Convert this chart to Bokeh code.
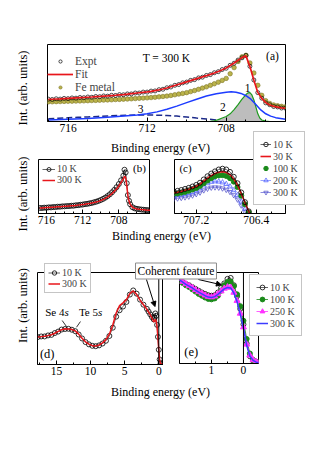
from bokeh.plotting import figure
from bokeh.models import Range1d, FixedTicker, Label, Legend, LegendItem, Span, Arrow, NormalHead
from bokeh.layouts import row, column
from bokeh.embed import file_html
from bokeh.resources import INLINE

FONT = "Liberation Serif"
RED = "#e8161b"
GREEN = "#1a8a1a"
MAGENTA = "#ff33ff"
BLUE = "#3c3cff"
NAN = float("nan")

# ---------------- panel (a) data (fraction of frame height) ----------------
A_X = [717.0, 716.8, 716.6, 716.4, 716.2, 716.0, 715.8, 715.6, 715.4, 715.2,
       715.0, 714.8, 714.6, 714.4, 714.2, 714.0, 713.8, 713.6, 713.4, 713.2,
       713.0, 712.8, 712.6, 712.4, 712.2, 712.0, 711.8, 711.6, 711.4, 711.2,
       711.0, 710.8, 710.6, 710.4, 710.2, 710.0, 709.8, 709.6, 709.4, 709.2,
       709.0, 708.8, 708.6, 708.4, 708.2, 708.0, 707.8, 707.6, 707.4, 707.2,
       707.0, 706.8, 706.6, 706.4, 706.2, 706.0, 705.8, 705.6, 705.4, 705.2,
       705.0]
A_EXPT = [.290, .286, .295, .291, .300, .297, .306, .303, .312, .309,
          .318, .315, .325, .322, .332, .329, .340, .338, .349, .347,
          .358, .358, .370, .370, .382, .382, .395, .397, .413, .419,
          .438, .448, .470, .480, .502, .512, .534, .544, .566, .576,
          .598, .609, .633, .647, .675, .692, .730, .757, .798, .827,
          .858, .717, .539, .375, .303, .242, .218, .195, .189, .175,
          .174]
A_FIT = [.287, .289, .292, .294, .297, .300, .303, .306, .309, .312,
         .315, .318, .322, .325, .329, .332, .337, .341, .346, .350,
         .355, .361, .367, .373, .379, .385, .392, .400, .410, .422,
         .435, .451, .467, .483, .499, .515, .531, .547, .563, .579,
         .595, .612, .630, .650, .672, .695, .727, .760, .795, .830,
         .852, .715, .536, .378, .300, .245, .215, .198, .186, .178,
         .172]
A_FE = [.255, .256, .258, .259, .261, .262, .264, .265, .267, .268,
        .270, .272, .274, .276, .278, .280, .282, .285, .287, .290,
        .292, .295, .298, .301, .304, .307, .311, .315, .320, .325,
        .330, .338, .347, .356, .365, .375, .388, .402, .418, .434,
        .450, .470, .490, .511, .534, .560, .620, .700, .780, .840,
        .860, .760, .630, .470, .340, .270, .235, .215, .205, .197,
        .190]
C1_X = [708.8, 708.6, 708.4, 708.2, 708.0, 707.8, 707.6, 707.4, 707.2, 707.0,
        706.9, 706.8, 706.7, 706.6, 706.5, 706.4, 706.3, 706.2, 706.0, 705.8]
C1_Y = [.003, .010, .025, .045, .065, .100, .155, .220, .290, .350,
        .372, .375, .345, .280, .190, .100, .045, .020, .005, .000]
C2_X = [717.0, 716.0, 715.0, 714.0, 713.0, 712.5, 712.0, 711.5, 711.0, 710.5,
        710.0, 709.5, 709.0, 708.5, 708.0, 707.75, 707.5, 707.25, 707.0, 706.75,
        706.5, 706.25, 706.0, 705.75, 705.5, 705.25, 705.0]
C2_Y = [.020, .030, .040, .055, .075, .085, .100, .125, .160, .200,
        .245, .290, .330, .360, .380, .385, .380, .365, .335, .290,
        .220, .150, .100, .070, .050, .040, .030]
C3_X = [717.0, 716.5, 716.0, 715.5, 715.0, 714.5, 714.0, 713.5, 713.0, 712.5,
        712.0, 711.5, 711.0, 710.5, 710.0, 709.5, 709.0, 708.5, 708.0, 707.5, 707.0]
C3_Y = [.035, .042, .048, .054, .060, .066, .072, .077, .082, .085,
        .085, .082, .078, .070, .058, .045, .033, .020, .010, .004, .000]

# ---------------- panel (b) ----------------
B_X = [716.75, 716.5, 716.25, 716.0, 715.75, 715.5, 715.25, 715.0, 714.75, 714.5,
       714.25, 714.0, 713.75, 713.5, 713.25, 713.0, 712.75, 712.5, 712.25, 712.0,
       711.75, 711.5, 711.25, 711.0, 710.75, 710.5, 710.25, 710.0, 709.75, 709.5,
       709.25, 709.0, 708.75, 708.5, 708.25, 708.0, 707.75, 707.5, 707.375, 707.25,
       707.125, 707.0, 706.875, 706.75, 706.5, 706.25, 706.0, 705.75, 705.5, 705.25,
       705.0, 704.75, 704.5]
B_300 = [.100, .103, .106, .109, .112, .115, .118, .121, .124, .127,
         .130, .133, .136, .139, .142, .145, .150, .155, .160, .166,
         .172, .179, .186, .194, .203, .213, .225, .240, .258, .280,
         .305, .335, .370, .410, .455, .510, .575, .640, .690, .670,
         .520, .330, .230, .170, .115, .095, .085, .078, .072, .068,
         .064, .061, .059]
B_10 = [.103, .101, .108, .107, .114, .113, .120, .119, .126, .126,
        .132, .132, .138, .138, .144, .144, .152, .154, .162, .165,
        .174, .178, .188, .195, .207, .219, .233, .250, .270, .294,
        .322, .355, .393, .437, .487, .545, .615, .700, .810, .760,
        .560, .340, .235, .172, .117, .096, .086, .079, .073, .069,
        .065, .062, .060]

# ---------------- panel (c) ----------------
C_X = [707.50, 707.45, 707.40, 707.35, 707.30, 707.25, 707.20, 707.15, 707.10, 707.05,
       707.00, 706.95, 706.90, 706.85, 706.80, 706.75, 706.70, 706.65, 706.60, 706.55,
       706.50, 706.45]
C_10 = [.405, .42, .435, .455, .475, .50, .53, .57, .63, .69, .74, .78, .815, .83, .815, .77,
        .68, .56, .39, .21, .04, -.12]
C_30 = [.38, .395, .41, .43, .45, .475, .505, .545, .60, .655, .70, .74, .765, .775, .76, .72,
        .64, .53, .37, .20, .04, -.12]
C_100 = [.36, .37, .385, .40, .42, .445, .47, .51, .56, .61, .655, .69, .705, .71, .695, .655,
         .59, .49, .33, .17, .02, -.13]
C_200 = [.33, .34, .35, .365, .38, .40, .43, .47, .52, .56, .585, .595, .59, .575, .545, .50,
         .43, .34, .22, .09, -.04, -.15]
C_300 = [.27, .28, .29, .30, .315, .335, .36, .39, .43, .46, .48, .485, .48, .465, .44, .40,
         .34, .26, .15, .03, -.09, -.20]

# ---------------- panel (d) ----------------
D_X = [17.75, 17.25, 16.75, 16.25, 15.75, 15.25, 14.75, 14.25, 13.75, 13.25,
       12.75, 12.25, 11.75, 11.25, 10.75, 10.25, 9.75, 9.25, 8.75, 8.25,
       7.75, 7.25, 6.75, 6.25, 5.75, 5.25, 4.75, 4.25, 3.75, 3.25,
       2.75, 2.25, 1.75, 1.5, 1.25, 1.0, 0.75, 0.625, 0.5, 0.375,
       0.25, 0.125, 0.0, -0.125, -0.25, -0.5, -0.75]
D_300 = [.300, .303, .307, .314, .324, .340, .360, .378, .388, .386,
         .380, .365, .330, .285, .247, .222, .205, .200, .212, .235,
         .270, .330, .430, .560, .640, .670, .705, .770, .800, .760,
         .700, .650, .600, .570, .540, .505, .465, .470, .490, .470,
         .400, .290, .150, .050, .010, .000, .000]
D_10 = [.298, .305, .305, .316, .322, .342, .358, .380, .386, .388,
        .378, .362, .326, .283, .244, .219, .203, .199, .208, .228,
        .258, .310, .400, .520, .590, .630, .680, .760, .805, .770,
        .705, .650, .605, .575, .545, .515, .490, .510, .555, .530,
        .430, .300, .160, .055, .012, .000, .000]

# ---------------- panel (e) ----------------
E_X = [2.0, 1.9, 1.8, 1.7, 1.6, 1.5, 1.4, 1.3, 1.2, 1.1, 1.0, 0.9, 0.8, 0.7, 0.6,
       0.5, 0.4, 0.3, 0.2, 0.1, 0.0, -0.1, -0.2, -0.3, -0.4, -0.5]
E_10 = [.92, .895, .875, .86, .84, .82, .80, .78, .765, .75, .745, .75, .78, .83, .88,
        .93, .94, .86, .74, .60, .43, .22, .08, .03, .015, .01]
E_100 = [.91, .885, .86, .84, .815, .79, .765, .745, .725, .71, .705, .715, .745, .80, .86,
         .895, .90, .85, .76, .63, .47, .27, .11, .04, .018, .01]
E_250 = [.93, .90, .875, .855, .835, .81, .79, .77, .75, .735, .73, .74, .765, .795, .825,
         .84, .835, .78, .69, .55, .40, .21, .09, .04, .02, .015]
E_300 = [.92, .895, .87, .85, .83, .805, .785, .765, .745, .73, .725, .735, .76, .79, .82,
         .835, .83, .775, .68, .54, .39, .20, .08, .035, .015, .01]

YLAB = "Int. (arb. units)"
XLAB = "Binding energy (eV)"


def base(xr, fw, fh, bl, bt, br, bb, major, minor):
    p = figure(x_range=Range1d(xr[0], xr[1]), y_range=Range1d(0, 1),
               frame_width=fw, frame_height=fh, title=None,
               min_border_left=bl, min_border_top=bt, min_border_right=br, min_border_bottom=bb,
               toolbar_location=None, output_backend="svg")
    p.yaxis.visible = False
    p.xgrid.visible = False
    p.ygrid.visible = False
    p.outline_line_color = "black"
    p.outline_line_width = 1
    p.border_fill_color = None
    p.background_fill_color = None
    ax = p.xaxis[0]
    ax.ticker = FixedTicker(ticks=major, minor_ticks=minor)
    ax.major_tick_in = 4
    ax.major_tick_out = 0
    ax.minor_tick_in = 2
    ax.minor_tick_out = 0
    ax.major_label_standoff = 2
    ax.major_label_text_font = FONT
    ax.major_label_text_font_size = "11.5px"
    ax.major_label_text_color = "black"
    ax.axis_line_color = "black"
    ax.major_tick_line_color = "black"
    ax.minor_tick_line_color = "black"
    return p


def txt(p, x, y, s, size="11.5px", align="center", angle=0, style="normal",
        units="screen", **kw):
    p.add_layout(Label(x=x, y=y, x_units=units, y_units=units, text=s, text_font=FONT,
                       text_font_size=size, text_align=align, text_baseline="middle",
                       angle=angle, angle_units="deg", text_font_style=style,
                       text_color="black", **kw))


def legend(p, items, loc, pad, h, gh, gw, size, border=True):
    lg = Legend(items=items, location=loc, padding=pad, spacing=0, margin=0,
                glyph_height=gh, glyph_width=gw, label_height=h, label_width=10,
                label_standoff=2, label_text_font=FONT, label_text_font_size=size,
                border_line_color="#8c8c8c" if border else None,
                border_line_width=1,
                background_fill_color="white",
                background_fill_alpha=1.0 if border else 0.0)
    p.add_layout(lg)


# ---------------- figure (a) ----------------
fa = base((717.04, 705.0), 238, 77, 47, 44, 20, 19, [716, 712, 708],
          [717, 715, 714, 713, 711, 710, 709, 707, 706, 705])
fa.line(C3_X, C3_Y, line_color="#1c2a8a", line_width=1.5, line_dash="6 3")
fa.varea(x=C1_X, y1=[0] * len(C1_X), y2=C1_Y, fill_color="#bdbdbd")
fa.line(C1_X, C1_Y, line_color="#1f9a1f", line_width=1.2)
fa.line(C2_X, C2_Y, line_color="#1d3cff", line_width=1.5)
r_fe = fa.scatter(A_X, A_FE, marker="circle", size=4.5, fill_color="#bab34a",
                  line_color="#7d7628", line_width=0.6)
r_ex = fa.scatter(A_X, A_EXPT, marker="circle", size=4, fill_color=None,
                  line_color="black", line_width=0.7)
r_fit = fa.line(A_X, A_FIT, line_color=RED, line_width=1.7)
legend(fa, [LegendItem(label="Expt", renderers=[r_ex]),
            LegendItem(label="Fit", renderers=[r_fit]),
            LegendItem(label="Fe metal", renderers=[r_fe])],
       (0, 28), 5, 13, 8, 26, "11.5px", border=False)
txt(fa, 225, 66, "(a)")
txt(fa, 119, 64, "T = 300 K")
txt(fa, 200, 33.7, "1")
txt(fa, 175.3, 14.7, "2")
txt(fa, 93, 12.5, "3")

# ---------------- figure (b) ----------------
fb = base((716.88, 704.5), 112, 54, 38, 19, 0, 32, [716, 712, 708],
          [715, 714, 713, 711, 710, 709, 707, 706, 705])
rb10l = fb.line(B_X, B_10, line_color="black", line_width=0.6)
rb10 = fb.scatter(B_X, B_10, marker="circle", size=5, fill_color=None,
                  line_color="black", line_width=0.8)
rb300 = fb.line(B_X, B_300, line_color=RED, line_width=1.5)
legend(fb, [LegendItem(label="10 K", renderers=[rb10l, rb10]),
            LegendItem(label="300 K", renderers=[rb300])],
       (4, 28), 2, 10, 10, 13, "10px", border=False)
txt(fb, 101, 45.5, "(b)", size="11px")

# ---------------- figure (c) ----------------
fc = base((707.49, 706.01), 111, 54, 24, 19, 20, 32, [707.2, 706.4],
          [707.4, 707.0, 706.8, 706.6, 706.2])
fc.line(C_X, C_300, line_color="#8c8ce0", line_width=1)
fc.scatter(C_X, C_300, marker="inverted_triangle", size=5, fill_color=None,
           line_color="#5a5acd", line_width=0.8)
fc.line(C_X, C_200, line_color="#97a2ff", line_width=1)
fc.scatter(C_X, C_200, marker="triangle", size=5, fill_color=None,
           line_color="#5566ff", line_width=0.8)
fc.scatter(C_X, C_100, marker="circle", size=5, fill_color=GREEN, line_color=GREEN)
fc.line(C_X, C_30, line_color=RED, line_width=1.6)
fc.line(C_X, C_10, line_color="black", line_width=0.6)
fc.scatter(C_X, C_10, marker="circle", size=5, fill_color=None,
           line_color="black", line_width=0.8)
txt(fc, 11, 45.7, "(c)", size="11px")

# ---------------- figure (d) ----------------
fd = base((17.79, -0.69), 126, 92, 37, 26, 0, 37, [15, 10, 5, 0], [17.5, 12.5, 7.5, 2.5])
fd.add_layout(Span(location=0, dimension="height", line_color="black", line_width=1))
fd.line(D_X, D_10, line_color="black", line_width=0.6)
fd.scatter(D_X, D_10, marker="circle", size=5, fill_color=None,
           line_color="black", line_width=0.8)
fd.line(D_X, D_300, line_color=RED, line_width=1.5)
fd.add_layout(Arrow(end=NormalHead(size=5, fill_color="black", line_color="black"),
                    x_start=1.81, y_start=0.924, x_end=0.56, y_end=0.63,
                    line_color="black", line_width=1))
fd.segment(x0=[14.17, 11.49], y0=[0.478, 0.467], x1=[13.54, 12.07], y1=[0.413, 0.405],
           line_color="black", line_width=0.8)
txt(fd, 9.7, 10.7, "(d)", size="12.5px")
txt(fd, 27, 53, "Se 4", size="11px", align="right")
txt(fd, 27, 53, "s", size="11px", align="left", style="italic")
txt(fd, 60.5, 53, "Te 5", size="11px", align="right")
txt(fd, 60.5, 53, "s", size="11px", align="left", style="italic")

# ---------------- figure (e) ----------------
fe = base((2.0, -0.47), 79, 91, 16, 27, 47, 37, [1, 0], [1.5, 0.5])
fe.add_layout(Span(location=0, dimension="height", line_color="black", line_width=1))
fe.line(E_X, E_10, line_color="black", line_width=0.6)
fe.scatter(E_X, E_10, marker="circle", size=5, fill_color=None,
           line_color="black", line_width=0.8)
fe.line(E_X, E_100, line_color=GREEN, line_width=0.8)
fe.scatter(E_X, E_100, marker="circle", size=5, fill_color=GREEN, line_color=GREEN)
fe.line(E_X, E_250, line_color=MAGENTA, line_width=0.8)
fe.scatter(E_X, E_250, marker="triangle", size=6, fill_color=MAGENTA, line_color=MAGENTA)
fe.line(E_X, E_300, line_color=BLUE, line_width=1.5)
fe.add_layout(Arrow(end=NormalHead(size=5, fill_color="black", line_color="black"),
                    x_start=1.41, y_start=0.923, x_end=0.69, y_end=0.865,
                    line_color="black", line_width=1))
txt(fe, 11.7, 11.3, "(e)", size="12.5px")

# ---------------- transparent overlay (page pixel coordinates) for shared texts ----------------
ov = figure(x_range=Range1d(0, 305), y_range=Range1d(400, 0), frame_width=305, frame_height=400,
            title=None, min_border=0, min_border_left=0, min_border_right=0,
            min_border_top=0, min_border_bottom=0,
            toolbar_location=None, output_backend="svg")
ov.axis.visible = False
ov.grid.visible = False
ov.outline_line_color = None
ov.border_fill_color = None
ov.background_fill_color = None

txt(ov, 22, 87.5, YLAB, size="12.5px", angle=90, units="data")
txt(ov, 22, 193.5, YLAB, size="12.5px", angle=90, units="data")
txt(ov, 22, 305, YLAB, size="12.5px", angle=90, units="data")
txt(ov, 160, 147, XLAB, size="12px", units="data")
txt(ov, 161, 235, XLAB, size="12px", units="data")
txt(ov, 160, 391, XLAB, size="12px", units="data")
txt(ov, 175.5, 270.5, "Coherent feature", size="11.5px", units="data",
    border_line_color="#8c8c8c", background_fill_color="white", padding=2)

# legend keys (proxies without visible points, styled like the panel series)
P = [NAN]
k10l = ov.line(P, P, line_color="black", line_width=0.6)
k10 = ov.scatter(P, P, marker="circle", size=5, fill_color=None, line_color="black", line_width=0.8)
k30 = ov.line(P, P, line_color=RED, line_width=1.6)
k100c = ov.scatter(P, P, marker="circle", size=5, fill_color=GREEN, line_color=GREEN)
k200l = ov.line(P, P, line_color="#97a2ff", line_width=1)
k200 = ov.scatter(P, P, marker="triangle", size=5, fill_color=None, line_color="#5566ff", line_width=0.8)
k300l = ov.line(P, P, line_color="#8c8ce0", line_width=1)
k300 = ov.scatter(P, P, marker="inverted_triangle", size=5, fill_color=None,
                  line_color="#5a5acd", line_width=0.8)
kd300 = ov.line(P, P, line_color=RED, line_width=1.5)
ke100l = ov.line(P, P, line_color=GREEN, line_width=0.8)
ke100 = ov.scatter(P, P, marker="circle", size=5, fill_color=GREEN, line_color=GREEN)
ke250l = ov.line(P, P, line_color=MAGENTA, line_width=0.8)
ke250 = ov.scatter(P, P, marker="triangle", size=6, fill_color=MAGENTA, line_color=MAGENTA)
ke300 = ov.line(P, P, line_color=BLUE, line_width=1.5)

legend(ov, [LegendItem(label="10 K", renderers=[k10l, k10]),
            LegendItem(label="30 K", renderers=[k30]),
            LegendItem(label="100 K", renderers=[k100c]),
            LegendItem(label="200 K", renderers=[k200l, k200]),
            LegendItem(label="300 K", renderers=[k300l, k300])],
       (253, 195), 6, 12, 12, 11, "10px", border=True)
legend(ov, [LegendItem(label="10 K", renderers=[k10l, k10]),
            LegendItem(label="300 K", renderers=[kd300])],
       (44, 107), 3, 11, 11, 12, "10px", border=True)
legend(ov, [LegendItem(label="10 K", renderers=[k10l, k10]),
            LegendItem(label="100 K", renderers=[ke100l, ke100]),
            LegendItem(label="250 K", renderers=[ke250l, ke250]),
            LegendItem(label="300 K", renderers=[ke300])],
       (249, 64), 6, 12, 12, 12, "10px", border=True)

layout = column(row(fa), row(fb, fc), row(fd, fe), row(ov, margin=(-400, 0, 0, 0)))

open("out.html", "w").write(file_html(layout, INLINE, title="plot"))
